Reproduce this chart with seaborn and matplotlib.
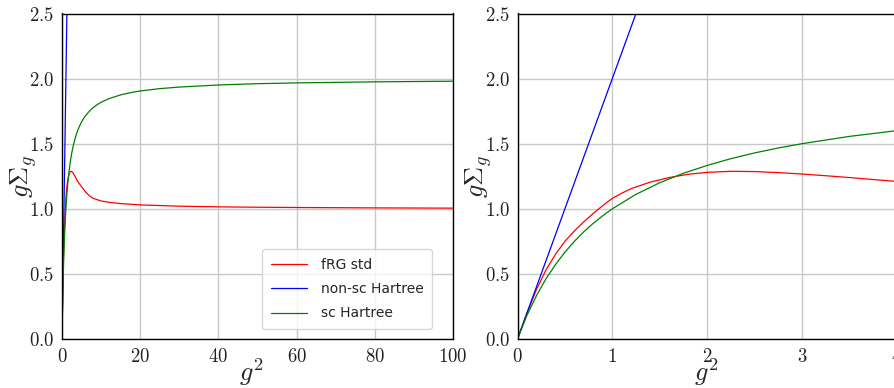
import numpy as np
import pandas as pd
import matplotlib
matplotlib.use("Agg")
import matplotlib.pyplot as plt
from matplotlib.ticker import FuncFormatter
import seaborn as sns

# ---- data ----
frg_x = [0, 0.1, 0.2, 0.3, 0.4, 0.5, 0.6, 0.7, 0.8, 0.9, 1.0, 1.1, 1.2, 1.4, 1.6, 1.8,
         2.0, 2.25, 2.5, 2.75, 3.0, 3.25, 3.5, 3.75, 4.0, 4.5, 5, 5.5, 6, 6.5, 7, 7.5, 8,
         9, 10, 11, 12, 13.5, 15, 17.5, 20, 25, 30, 40, 50, 60, 80, 100]
frg_y = [0, 0.2, 0.38, 0.53, 0.65, 0.75, 0.83, 0.90, 0.965, 1.025, 1.08, 1.12, 1.155,
         1.205, 1.24, 1.265, 1.28, 1.288, 1.286, 1.278, 1.267, 1.254, 1.24, 1.225, 1.21,
         1.19, 1.17, 1.15, 1.13, 1.115, 1.10, 1.09, 1.08, 1.07, 1.06, 1.055, 1.05,
         1.045, 1.04, 1.035, 1.03, 1.025, 1.02, 1.015, 1.012, 1.01, 1.007, 1.005]

nonsc_x = [0, 1.5]
nonsc_y = [0, 3.0]

sc_x = [0, 0.1, 0.2, 0.3, 0.4, 0.5, 0.6, 0.7, 0.8, 0.9, 1.0, 1.25, 1.5, 1.75, 2.0,
        2.25, 2.5, 2.75, 3.0, 3.5, 4.0, 4.5, 5, 5.5, 6, 7, 8, 9, 10, 12, 15, 17.5, 20,
        25, 30, 40, 50, 60, 80, 100]
sc_y = [0, 0.182, 0.333, 0.462, 0.571, 0.667, 0.75, 0.824, 0.889, 0.947, 1.0, 1.111,
        1.2, 1.273, 1.333, 1.385, 1.429, 1.467, 1.5, 1.556, 1.6, 1.636, 1.667, 1.692,
        1.714, 1.75, 1.778, 1.8, 1.818, 1.846, 1.875, 1.892, 1.905, 1.923, 1.935,
        1.951, 1.961, 1.967, 1.975, 1.98]

labels = ["fRG std", "non-sc Hartree", "sc Hartree"]
colors = ["red", "blue", "green"]

left_xticks = [0, 20, 40, 60, 80, 100]
right_xticks = [0, 1, 2, 3, 4]
yticks = [0.0, 0.5, 1.0, 1.5, 2.0, 2.5]

# ---- style ----
sns.set_style("whitegrid")
plt.rcParams["font.family"] = ["DejaVu Sans"]
plt.rcParams["mathtext.fontset"] = "cm"

fig = plt.figure(figsize=(8.94, 3.88), dpi=100)
axw = 391 / 894
axh = 325.5 / 388
ax1 = fig.add_axes([62 / 894, (388 - 339) / 388, axw, axh])
ax2 = fig.add_axes([517.5 / 894, (388 - 339) / 388, axw, axh])

series = [(frg_x, frg_y), (nonsc_x, nonsc_y), (sc_x, sc_y)]

for ax, xmax, xt in [(ax1, 100, left_xticks), (ax2, 391 / 94.8, right_xticks)]:
    for (xs, ys), lab, c in zip(series, labels, colors):
        df = pd.DataFrame({"x": xs, "y": ys})
        sns.lineplot(data=df, x="x", y="y", ax=ax, color=c, linewidth=0.9,
                     label=lab if ax is ax1 else None, sort=False, estimator=None)
    ax.set_xlim(0, xmax)
    ax.set_ylim(0, 2.5)
    ax.set_xticks(xt)
    ax.set_yticks(yticks)
    ax.xaxis.set_major_formatter(FuncFormatter(lambda v, p: f"${v:.0f}$"))
    ax.yaxis.set_major_formatter(FuncFormatter(lambda v, p: f"${v:.1f}$"))
    ax.tick_params(axis="both", which="major", length=3.5, width=0.8, color="black",
                   labelsize=13.5, pad=2, colors="#222222")
    ax.grid(True, color="#c8c8c8", linewidth=1.0)
    for s in ax.spines.values():
        s.set_color("black")
        s.set_linewidth(1.0)
    ax.set_xlabel(r"$g^2$", fontsize=19, labelpad=-6.5)
    ax.xaxis.label.set_x(0.484)
    ax.set_ylabel(r"$g\Sigma_g$", fontsize=19, labelpad=-7)

if ax2.get_legend() is not None:
    ax2.get_legend().remove()
leg = ax1.legend(loc="lower right", bbox_to_anchor=(0.947, 0.03), borderaxespad=0,
                 fontsize=10, frameon=True, framealpha=0.8, edgecolor="#cccccc",
                 fancybox=True, borderpad=0.63, handlelength=2.6, handletextpad=1.0,
                 labelspacing=0.74)

fig.savefig("out.png", dpi=100)
